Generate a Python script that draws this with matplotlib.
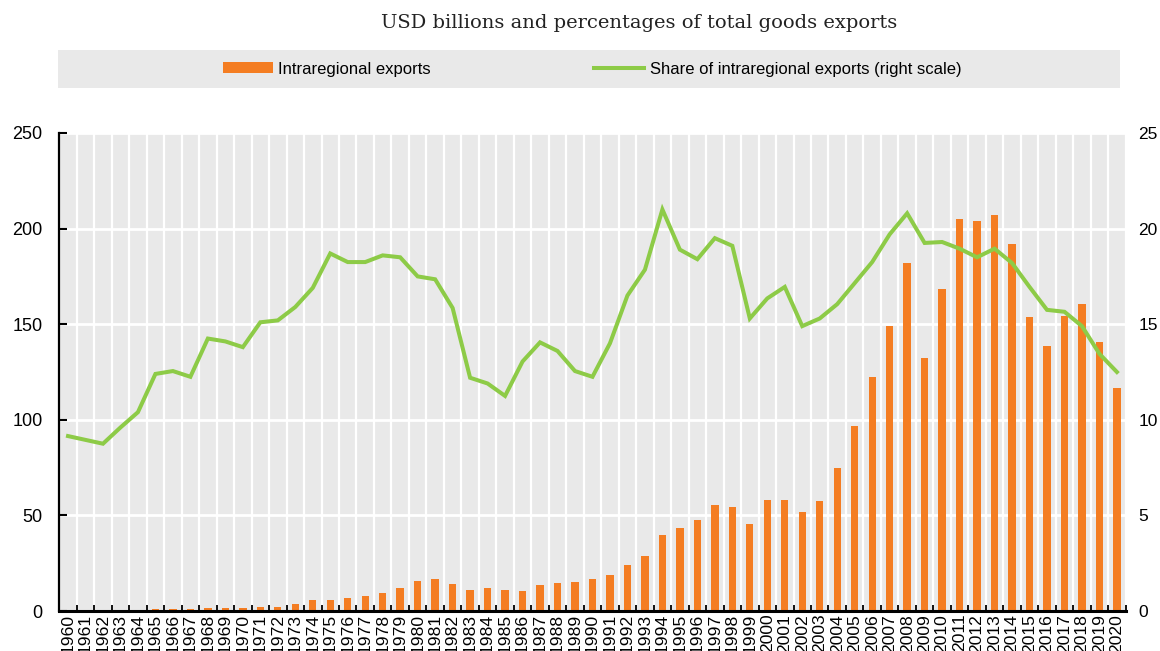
import matplotlib
matplotlib.use("Agg")
import matplotlib.pyplot as plt
import numpy as np

years = list(range(1960, 2021))

# USD billions
intraregional_exports = [
    0, 0, 0, 0, 0.5, 1, 1, 1.2, 1.5, 1.5,
    1.7, 2, 2.3, 3.5, 6, 6, 7, 8, 9.5, 12,
    15.8, 17, 13.9, 10.9, 12, 10.9, 10.5, 13.4, 14.9, 15.3,
    16.5, 18.9, 24.3, 28.8, 39.6, 43.4, 47.4, 55.7, 54.3, 45.3,
    58.2, 58, 51.6, 57.6, 75, 97, 122.5, 149, 182, 132.5,
    168.5, 205, 204, 207, 192, 154, 138.5, 154.5, 160.5, 140.5,
    116.5,
]

# % of total goods exports
intraregional_share = [
    9.15, 8.95, 8.75, 9.6, 10.4, 12.4, 12.55, 12.25, 14.25, 14.1,
    13.8, 15.1, 15.2, 15.9, 16.9, 18.7, 18.25, 18.25, 18.6, 18.5,
    17.5, 17.35, 15.85, 12.2, 11.9, 11.25, 13.05, 14.05, 13.6, 12.55,
    12.25, 14.0, 16.5, 17.85, 21.0, 18.9, 18.4, 19.5, 19.1, 15.3,
    16.35, 16.95, 14.9, 15.3, 16.05, 17.15, 18.25, 19.7, 20.8, 19.25,
    19.3, 18.95, 18.5, 18.95, 18.2, 16.95, 15.75, 15.65, 14.9, 13.45,
    12.5,
]

left_ticks = [0, 50, 100, 150, 200, 250]
right_ticks = [0, 5, 10, 15, 20, 25]

ORANGE = "#F47D22"
GREEN = "#8DCB47"
BG = "#E9E9E9"

plt.rcParams["font.family"] = ["Liberation Sans", "DejaVu Sans"]

fig = plt.figure(figsize=(11.6, 6.51), dpi=100)

fig.text(0.551, 0.964, "USD billions and percentages of total goods exports",
         ha="center", va="center", fontsize=14, family="DejaVu Serif",
         color="#222222")

# legend strip
lax = fig.add_axes([0.05, 0.8648, 0.9155, 0.0584])
lax.set_facecolor(BG)
for s in lax.spines.values():
    s.set_visible(False)
lax.set_xticks([])
lax.set_yticks([])

ax = fig.add_axes([0.0511, 0.0614, 0.9193, 0.7343])
ax.set_facecolor(BG)
bars = ax.bar(years, intraregional_exports, width=0.42, color=ORANGE,
              label="Intraregional exports", zorder=2)
ax.set_xlim(years[0] - 0.5, years[-1] + 0.5)
ax.set_ylim(left_ticks[0], left_ticks[-1])
ax.set_yticks(left_ticks)
ax.set_xticks(years)
ax.set_xticklabels([str(y) for y in years], rotation=90, fontsize=12.6)
ax.set_xticks(np.arange(years[0] - 0.5, years[-1] + 1.0, 1.0), minor=True)
ax.tick_params(axis="x", which="major", length=0, pad=2)
ax.tick_params(axis="x", which="minor", direction="in", length=4, width=1.3,
               color="black")
ax.tick_params(axis="y", direction="in", length=6, width=1.5, pad=12,
               labelsize=13)
ax.grid(axis="x", which="minor", color="white", linewidth=1.6)
ax.grid(axis="y", which="major", color="white", linewidth=2)
ax.grid(axis="x", which="major", visible=False)
ax.set_axisbelow(True)
for s in ["top", "right"]:
    ax.spines[s].set_visible(False)
ax.spines["left"].set_linewidth(1.6)
ax.spines["bottom"].set_linewidth(2.2)
ax.spines["bottom"].set_zorder(5)

ax2 = ax.twinx()
line, = ax2.plot(years, intraregional_share, color=GREEN, linewidth=2.9,
                 label="Share of intraregional exports (right scale)",
                 solid_joinstyle="miter", zorder=3)
ax2.set_ylim(right_ticks[0], right_ticks[-1])
ax2.set_yticks(right_ticks)
ax2.tick_params(axis="y", length=0, pad=9, labelsize=12.5)
for s in ax2.spines.values():
    s.set_visible(False)

leg = lax.legend([bars, line],
                 ["Intraregional exports",
                  "Share of intraregional exports (right scale)"],
                 loc="center", ncol=2, frameon=False, fontsize=12,
                 handlelength=3.0, handleheight=0.6, handletextpad=0.35,
                 columnspacing=9.8, bbox_to_anchor=(0.503, 0.5))

fig.savefig("out.png", dpi=100)
